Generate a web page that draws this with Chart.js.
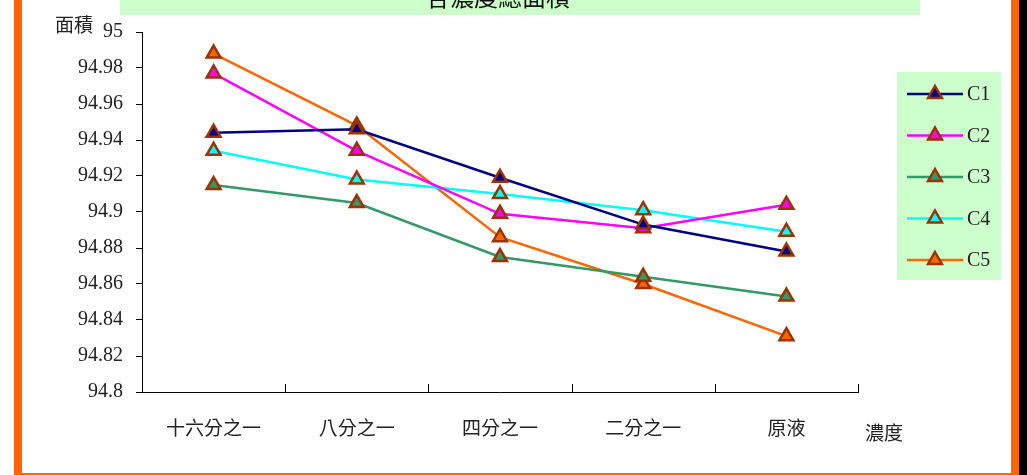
<!DOCTYPE html>
<html>
<head>
<meta charset="utf-8">
<script src="https://cdn.jsdelivr.net/npm/chart.js@4/dist/chart.umd.min.js"></script>
<style>
  html, body { margin: 0; padding: 0; background: #fff; }
  #wrap { width: 1027px; height: 475px; }
</style>
</head>
<body>
<div id="wrap"><canvas id="chart" width="1027" height="475"></canvas></div>
<script>
// data
const categories = ['十六分之一', '八分之一', '四分之一', '二分之一', '原液'];
const seriesNames = ['C1', 'C2', 'C3', 'C4', 'C5'];
const c1 = [94.944, 94.946, 94.919, 94.893, 94.878];
const c2 = [94.977, 94.934, 94.899, 94.891, 94.904];
const c3 = [94.915, 94.905, 94.875, 94.864, 94.853];
const c4 = [94.934, 94.918, 94.910, 94.901, 94.889];
const c5 = [94.988, 94.948, 94.886, 94.860, 94.831];
const yMin = 94.8, yMax = 95, yStep = 0.02;
const titleText = '各濃度總面積';
const yTitle = '面積';
const xTitle = '濃度';

const colors = ['#000080', '#FF00FF', '#339966', '#00FFFF', '#FF6600'];
const markerBorder = '#993300';
const serif = "'Liberation Serif', 'DejaVu Serif', serif";
const cjk = "'Noto Sans CJK TC', 'Noto Sans CJK SC', sans-serif";

const datasets = [c1, c2, c3, c4, c5].map((vals, i) => ({
  label: seriesNames[i],
  data: vals,
  borderColor: colors[i],
  backgroundColor: colors[i],
  borderWidth: 2.5,
  pointStyle: 'triangle',
  pointRadius: 8,
  pointHoverRadius: 8,
  pointBorderWidth: 2.5,
  pointBorderColor: markerBorder,
  pointBackgroundColor: colors[i],
  tension: 0,
}));

// frame, title box, axis names, x tick marks, legend
const decor = {
  id: 'decor',
  beforeDraw(chart) {
    const ctx = chart.ctx;
    ctx.save();
    ctx.fillStyle = '#fff';
    ctx.fillRect(0, 0, 1027, 475);
    // title box (cut at top)
    ctx.fillStyle = '#CCFFCC';
    ctx.fillRect(120, 0, 800, 15);
    ctx.fillStyle = '#111';
    ctx.font = '24px ' + cjk;
    ctx.textAlign = 'center';
    ctx.textBaseline = 'alphabetic';
    ctx.fillText(titleText, 498, 6);
    // frame
    ctx.fillStyle = '#FF6600';
    ctx.fillRect(14, 0, 8, 475);
    ctx.fillRect(1011, 0, 8, 475);
    ctx.fillRect(14, 473, 1005, 2);
    ctx.fillStyle = '#000';
    ctx.fillRect(1019, 0, 8, 475);
    ctx.restore();
  },
  afterDraw(chart) {
    const ctx = chart.ctx;
    const xs = chart.scales.x;
    const area = chart.chartArea;
    ctx.save();
    // x tick marks pointing up
    ctx.strokeStyle = '#000';
    ctx.lineWidth = 1;
    const n = categories.length;
    const w = (xs.right - xs.left) / n;
    for (let i = 1; i <= n; i++) {
      const x = Math.round(xs.left + i * w) + 0.5;
      ctx.beginPath();
      ctx.moveTo(x, area.bottom);
      ctx.lineTo(x, area.bottom - 8);
      ctx.stroke();
    }
    // axis names
    ctx.fillStyle = '#222';
    ctx.font = '19px ' + cjk;
    ctx.textAlign = 'left';
    ctx.textBaseline = 'middle';
    ctx.fillText(yTitle, 55, 25);
    ctx.fillText(xTitle, 865, 433);
    // legend
    const lx = 897, ly = 72, lw = 104, lh = 208;
    ctx.fillStyle = '#CCFFCC';
    ctx.fillRect(lx, ly, lw, lh);
    chart.data.datasets.forEach((ds, i) => {
      const y = 94 + i * 41.5;
      ctx.strokeStyle = ds.borderColor;
      ctx.lineWidth = 2.5;
      ctx.beginPath();
      ctx.moveTo(907, y);
      ctx.lineTo(963, y);
      ctx.stroke();
      // triangle marker
      const r = 8, cx = 935;
      ctx.beginPath();
      ctx.moveTo(cx, y - r);
      ctx.lineTo(cx + r * 0.866, y + r / 2);
      ctx.lineTo(cx - r * 0.866, y + r / 2);
      ctx.closePath();
      ctx.fillStyle = ds.backgroundColor;
      ctx.fill();
      ctx.strokeStyle = markerBorder;
      ctx.lineWidth = 2.5;
      ctx.stroke();
      ctx.fillStyle = '#222';
      ctx.font = '20px ' + serif;
      ctx.textAlign = 'left';
      ctx.textBaseline = 'middle';
      ctx.fillText(ds.label, 967, y + 1);
    });
    ctx.restore();
  }
};

new Chart(document.getElementById('chart'), {
  type: 'line',
  data: { labels: categories, datasets: datasets },
  options: {
    responsive: false,
    animation: false,
    devicePixelRatio: 1,
    layout: { padding: { top: 32, right: 169, left: 0, bottom: 0 } },
    plugins: {
      legend: { display: false },
      title: { display: false },
      tooltip: { enabled: false },
    },
    scales: {
      x: {
        type: 'category',
        offset: true,
        grid: { display: false },
        border: { display: true, color: '#000', width: 1 },
        ticks: { color: '#222', padding: 16, maxRotation: 0, font: { family: cjk, size: 19 } },
        afterFit(scale) { scale.height = 83; },
      },
      y: {
        min: yMin,
        max: yMax,
        grid: { drawOnChartArea: false, drawTicks: true, tickLength: 6, color: '#000' },
        border: { display: true, color: '#000', width: 1 },
        ticks: {
          stepSize: yStep,
          color: '#222',
          padding: 13,
          font: { family: serif, size: 20 },
          callback: v => String(+v.toFixed(2)),
        },
        afterFit(scale) { scale.width = 142; },
      },
    },
  },
  plugins: [decor],
});
</script>
</body>
</html>
